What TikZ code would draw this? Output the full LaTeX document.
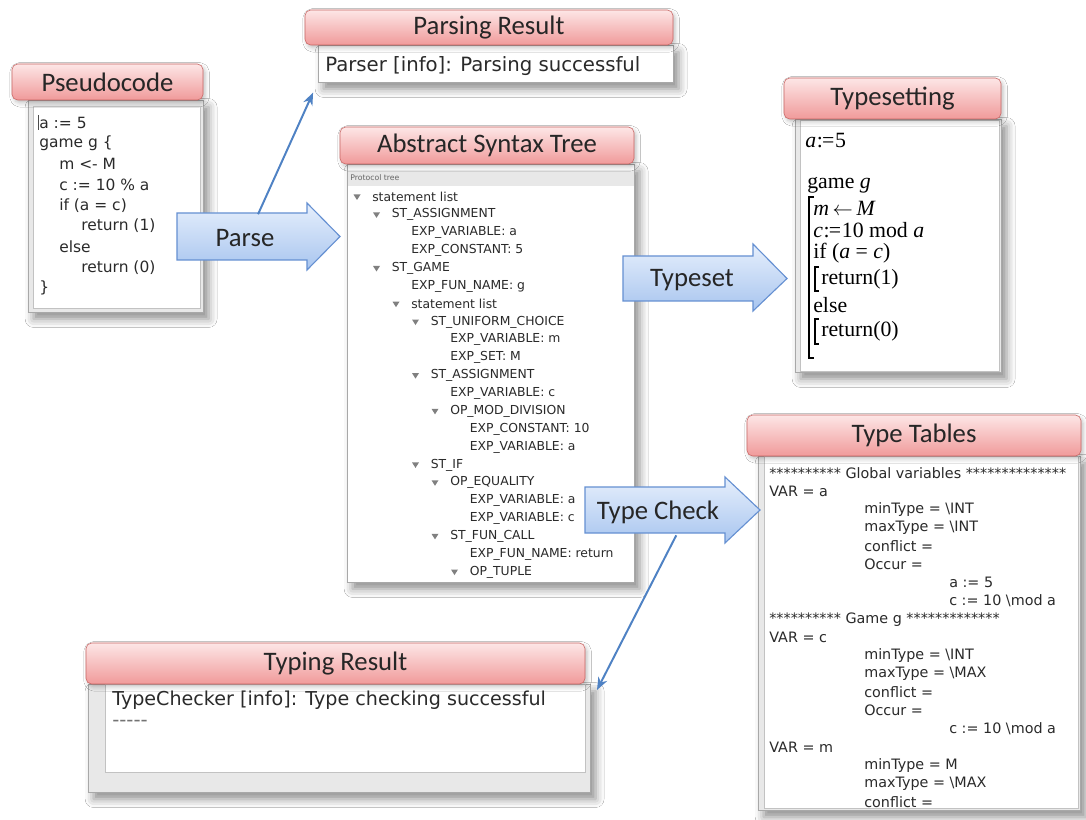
\documentclass[tikz,border=0pt]{standalone}
\usepackage{fontspec}
\setmainfont{Carlito}
\newfontfamily\uifont{DejaVu Sans}
\newfontfamily\tsfont{Liberation Serif}
\usepackage{tikz}
\usetikzlibrary{arrows.meta,calc,shadows.blur}
\definecolor{TitleTop}{HTML}{FDE6E6}
\definecolor{TitleBot}{HTML}{F09A9A}
\definecolor{TitleLine}{HTML}{C96462}
\definecolor{ArrowTop}{HTML}{E6EFFC}
\definecolor{ArrowBot}{HTML}{A8C5EF}
\definecolor{ArrowLine}{HTML}{6590D2}
\definecolor{LinkBlue}{HTML}{4F82C4}
\definecolor{FrameGray}{HTML}{E8E8E8}
\definecolor{FrameLine}{HTML}{A8A8A8}
\definecolor{TextGray}{HTML}{2A2A2A}
\definecolor{TriGray}{HTML}{808080}
\newcommand\pxu{0.025cm}

\begin{document}
\begin{tikzpicture}[x=\pxu,y=-\pxu,
    title/.style={draw=TitleLine,rounded corners=4pt,top color=TitleTop,bottom color=TitleBot,
      inner sep=0pt,font=\fontsize{19}{20}\selectfont,text=black!85,
      blur shadow={shadow xshift=1.5pt,shadow yshift=-2pt,shadow blur radius=3pt,shadow opacity=25}},
    window/.style={draw=FrameLine,fill=FrameGray,inner sep=0pt,
      blur shadow={shadow xshift=4pt,shadow yshift=-5pt,shadow blur radius=6pt,shadow opacity=45}},
    pane/.style={draw=FrameLine!70,fill=white,inner sep=0pt},
    bigarrow/.style={draw=ArrowLine,line width=0.8pt,top color=ArrowTop,bottom color=ArrowBot},
    arrowtext/.style={inner sep=0pt,font=\fontsize{19}{20}\selectfont,text=black!85},
    link/.style={draw=LinkBlue,line width=1.4pt,-{Stealth[length=9pt,width=7pt]}},
    code/.style={anchor=west,inner sep=0pt,text=TextGray,font=\uifont\fontsize{11}{12}\selectfont},
    treeitem/.style={anchor=west,inner sep=0pt,text=TextGray,font=\uifont\fontsize{8.8}{10}\selectfont},
    tableitem/.style={anchor=west,inner sep=0pt,text=TextGray,font=\uifont\fontsize{10.2}{12}\selectfont},
    message/.style={anchor=west,inner sep=0pt,text=TextGray,font=\uifont\fontsize{14}{15}\selectfont},
    tsline/.style={anchor=west,inner sep=0pt,text=black,font=\tsfont\fontsize{15.5}{16}\selectfont}]
  \fill[white] (0,0) rectangle (1086,820);
  \useasboundingbox (0,0) rectangle (1086,820);

  % pseudocode window
  \node[window,minimum width=175*\pxu,minimum height=212*\pxu] (pseudowin) at (115.5,206) {};
  \node[pane,minimum width=167*\pxu,minimum height=202*\pxu] (pseudopane) at (117,207) {};
  \node[title,minimum width=191*\pxu,minimum height=36*\pxu] (pseudotitle) at (107.5,82) {Pseudocode};
  \draw[black!70,line width=0.6pt] (38.5,115) -- (38.5,130);
  \foreach \tx/\txt [count=\i from 0] in {39/a := 5, 39/game g \{, 59/m <- M, 59/c := 10 \% a,
      59/if (a = c), 81/return (1), 59/else, 81/return (0), 39/\}}
    \node[code] (code\i) at (\tx,123+20.6*\i) {\txt};

  % parsing result
  \node[window,fill=white,minimum width=355*\pxu,minimum height=37*\pxu] (parsepane) at (495.5,63.5) {};
  \node[title,minimum width=368*\pxu,minimum height=35*\pxu] (parsetitle) at (489,27.5) {Parsing Result};
  \node[message] (parsemsg) at (325,66) {Parser [info]: Parsing successful};

  % abstract syntax tree
  \node[window,fill=white,minimum width=287*\pxu,minimum height=418*\pxu] (astwin) at (490.5,373) {};
  \fill[FrameGray] (347.5,170) rectangle (633.5,186);
  \node[anchor=west,inner sep=0pt,text=black!60,font=\uifont\fontsize{5.5}{6}\selectfont] (protocol) at (350,178) {Protocol tree};
  \node[title,minimum width=294*\pxu,minimum height=37*\pxu] (asttitle) at (487,145.5) {Abstract Syntax Tree};
  \foreach \lv/\tri/\txt [count=\i from 0] in {0/1/statement list, 1/1/ST\_ASSIGNMENT,
      2/0/EXP\_VARIABLE: a, 2/0/EXP\_CONSTANT: 5, 1/1/ST\_GAME, 2/0/EXP\_FUN\_NAME: g,
      2/1/statement list, 3/1/ST\_UNIFORM\_CHOICE, 4/0/EXP\_VARIABLE: m, 4/0/EXP\_SET: M,
      3/1/ST\_ASSIGNMENT, 4/0/EXP\_VARIABLE: c, 4/1/OP\_MOD\_DIVISION, 5/0/EXP\_CONSTANT: 10,
      5/0/EXP\_VARIABLE: a, 3/1/ST\_IF, 4/1/OP\_EQUALITY, 5/0/EXP\_VARIABLE: a,
      5/0/EXP\_VARIABLE: c, 4/1/ST\_FUN\_CALL, 5/0/EXP\_FUN\_NAME: return, 5/1/OP\_TUPLE}{
    \pgfmathsetmacro\ty{197+17.86*\i}
    \pgfmathsetmacro\tx{372+19.5*\lv}
    \ifnum\tri=1
      \fill[TriGray] (\tx-18.5,\ty-2.5) -- (\tx-11.5,\ty-2.5) -- (\tx-15,\ty+3) -- cycle;
    \fi
    \node[treeitem] (ast\i) at (\tx,\ty) {\txt};
  }

  % typesetting
  \node[window,minimum width=206*\pxu,minimum height=253*\pxu] (tswin) at (898,245.5) {};
  \node[pane,minimum width=199*\pxu,minimum height=251*\pxu] (tspane) at (899.5,245.5) {};
  \node[title,minimum width=217*\pxu,minimum height=41*\pxu] (tstitle) at (892.5,98.5) {Typesetting};
  \node[tsline] (ts1) at (805,141) {\textit{a}\kern.5pt:\kern-.6pt=\kern.5pt5};
  \node[tsline] (ts2) at (807,185) {game \textit{g}};
  \node[tsline] (ts3) at (813,208) {\textit{m}\,$\leftarrow$\,\textit{M}};
  \node[tsline] (ts4) at (813,230) {\textit{c}\kern.5pt:\kern-.6pt=\kern.5pt10 mod \textit{a}};
  \node[tsline] (ts5) at (813,253) {if (\textit{a} = \textit{c})};
  \node[tsline] (ts6) at (821,279) {return(1)};
  \node[tsline] (ts7) at (813,305) {else};
  \node[tsline] (ts8) at (821,331) {return(0)};
  \draw[line width=1pt] (814,197) -- (809,197) -- (809,358) -- (814,358);
  \draw[line width=0.9pt] (819,267) -- (815,267) -- (815,291) -- (819,291);
  \draw[line width=0.9pt] (819,319) -- (815,319) -- (815,344) -- (819,344);

  % type tables
  \node[window,minimum width=322*\pxu,minimum height=354*\pxu] (ttwin) at (919,633) {};
  \node[pane,minimum width=314*\pxu,minimum height=352*\pxu] (ttpane) at (921,632) {};
  \node[title,minimum width=334*\pxu,minimum height=41*\pxu] (tttitle) at (914,435.5) {Type Tables};
  \foreach \tx/\txt [count=\i from 0] in {769/{********** Global variables **************},
      769/VAR = a, 864/minType = \textbackslash INT, 864/maxType = \textbackslash INT,
      864/conflict =, 864/Occur =, 949/a := 5, 949/c := 10 \textbackslash mod a,
      769/{********** Game g *************}, 769/VAR = c, 864/minType = \textbackslash INT,
      864/maxType = \textbackslash MAX, 864/conflict =, 864/Occur =, 949/c := 10 \textbackslash mod a,
      769/VAR = m, 864/minType = M, 864/maxType = \textbackslash MAX, 864/conflict =}
    \node[tableitem] (tt\i) at (\tx,473+18.28*\i) {\txt};

  % typing result
  \node[window,minimum width=502*\pxu,minimum height=108*\pxu] (typingwin) at (339,738) {};
  \node[pane,minimum width=480*\pxu,minimum height=88*\pxu] (typingpane) at (345,728) {};
  \node[title,minimum width=499*\pxu,minimum height=41*\pxu] (typingtitle) at (335.5,663.5) {Typing Result};
  \node[message,font=\uifont\fontsize{13.6}{15}\selectfont] (typingmsg) at (112,700) {TypeChecker [info]: Type checking successful};
  \node[message,text=black!55] (typingrule) at (112,723) {-{}-{}-{}-{}-};

  % block arrows
  \shade[bigarrow] (177,213) -- (307,213) -- (307,203) -- (340,236.5) -- (307,270)
    -- (307,260) -- (177,260) -- cycle;
  \node[arrowtext,minimum width=130*\pxu,minimum height=47*\pxu] (parse) at (245,238) {Parse};
  \shade[bigarrow] (623,256) -- (753,256) -- (753,244) -- (787,278.5) -- (753,311)
    -- (753,301) -- (623,301) -- cycle;
  \node[arrowtext,minimum width=130*\pxu,minimum height=45*\pxu] (typeset) at (692,280) {Typeset};
  \shade[bigarrow] (585,487) -- (725,487) -- (725,477) -- (760,510) -- (725,543)
    -- (725,533) -- (585,533) -- cycle;
  \node[arrowtext,minimum width=140*\pxu,minimum height=46*\pxu] (typecheck) at (658,512) {Type Check};

  % links
  \coordinate (typingend) at (597,690);
  \draw[link,shorten >=8pt] ($(parse.north west)!0.6!(parse.north east)$) -- (parsepane.south west);
  \draw[link] ($(typecheck.south west)!0.63!(typecheck.south east)$) -- (typingend);
\end{tikzpicture}
\end{document}
